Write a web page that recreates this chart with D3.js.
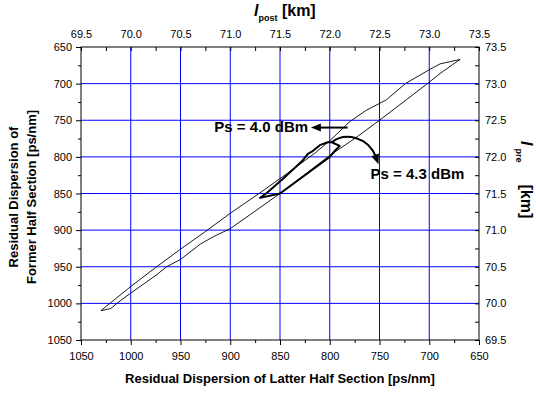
<!DOCTYPE html>
<html>
<head>
<meta charset="utf-8">
<script src="https://cdn.jsdelivr.net/npm/d3@7"></script>
<style>
  body { margin: 0; background: #fff; }
  text { font-family: "Liberation Sans", Arial, sans-serif; }
</style>
</head>
<body>
<svg id="chart" width="536" height="393"></svg>
<script>
/* axis ticks */
var latterTicks = [1050, 1000, 950, 900, 850, 800, 750, 700, 650];
var formerTicks = [650, 700, 750, 800, 850, 900, 950, 1000, 1050];
var postTicks = [69.5, 70.0, 70.5, 71.0, 71.5, 72.0, 72.5, 73.0, 73.5];
var preTicks = [69.5, 70.0, 70.5, 71.0, 71.5, 72.0, 72.5, 73.0, 73.5];

/* Ps = 4.0 dBm contour (closed), latter vs former residual dispersion */
var ps40Latter = [1030, 1021, 1000, 974, 950, 925, 900, 870, 840, 815, 800, 780, 764, 743, 724, 700, 689, 669,
                  689, 700, 723, 750, 775, 800, 825, 850, 875, 900, 917, 930, 950, 964, 974, 1000, 1014, 1020];
var ps40Former = [1010, 1000, 977, 950, 926, 902, 877, 849, 820, 795, 778, 752, 737, 722, 700, 681, 673, 667,
                  686, 698, 722, 750, 775, 798, 824, 850, 874, 898, 909, 919, 940, 950, 961, 986, 1000, 1007];

/* Ps = 4.3 dBm contour (closed) */
var ps43Latter = [870, 850, 825, 800, 795, 790, 798, 802, 810, 818, 822, 828, 847, 863];
var ps43Former = [856, 850, 825, 800, 792, 785, 780, 780, 784, 793, 796, 806, 830, 849];

var svg = d3.select("#chart");

/* scales: bottom/left in ps/nm, top/right in km */
var x = d3.scaleLinear().domain([1050, 650]).range([81, 479]);
var y = d3.scaleLinear().domain([650, 1050]).range([47, 340]);
var xPost = d3.scaleLinear().domain([69.5, 73.5]).range([81, 479]);
var yPre = d3.scaleLinear().domain([73.5, 69.5]).range([47, 340]);

/* blue grid */
var grid = svg.append("g").attr("class", "grid");
grid.selectAll("line.gv").data(latterTicks.slice(1, -1)).enter().append("line")
  .attr("class", "gv")
  .attr("x1", function(d) { return x(d); }).attr("x2", function(d) { return x(d); })
  .attr("y1", y.range()[0]).attr("y2", y.range()[1])
  .style("stroke", "#0000ff").style("stroke-width", 1);
grid.selectAll("line.gh").data(formerTicks.slice(1, -1)).enter().append("line")
  .attr("class", "gh")
  .attr("y1", function(d) { return y(d); }).attr("y2", function(d) { return y(d); })
  .attr("x1", x.range()[0]).attr("x2", x.range()[1])
  .style("stroke", "#0000ff").style("stroke-width", 1);

function styleAxis(g) {
  g.select(".domain").remove();
  g.selectAll(".tick line").attr("stroke", "#000");
  g.selectAll(".tick text").attr("font-size", 11).attr("fill", "#000")
    .attr("font-family", '"Liberation Sans", Arial, sans-serif');
}

var minorLatter = latterTicks.slice(1).map(function(d) { return d + 25; });
var minorFormer = formerTicks.slice(1).map(function(d) { return d - 25; });
var minorKm = postTicks.slice(1).map(function(d) { return d - 0.25; });

/* bottom */
svg.append("g").attr("transform", "translate(0,340)")
  .call(d3.axisBottom(x).tickValues(latterTicks).tickSize(5).tickPadding(7).tickFormat(d3.format("d")))
  .call(styleAxis);
svg.append("g").attr("transform", "translate(0,340)")
  .call(d3.axisBottom(x).tickValues(minorLatter).tickSize(3).tickFormat(""))
  .call(styleAxis);
/* left */
svg.append("g").attr("transform", "translate(81,0)")
  .call(d3.axisLeft(y).tickValues(formerTicks).tickSize(5).tickPadding(4).tickFormat(d3.format("d")))
  .call(styleAxis);
svg.append("g").attr("transform", "translate(81,0)")
  .call(d3.axisLeft(y).tickValues(minorFormer).tickSize(3).tickFormat(""))
  .call(styleAxis);
/* top */
svg.append("g").attr("transform", "translate(0,47)")
  .call(d3.axisTop(xPost).tickValues(postTicks).tickSize(-4).tickPadding(9).tickFormat(d3.format(".1f")))
  .call(styleAxis);
svg.append("g").attr("transform", "translate(0,47)")
  .call(d3.axisTop(xPost).tickValues(minorKm).tickSize(-4).tickFormat(""))
  .call(styleAxis);
/* right */
svg.append("g").attr("transform", "translate(479,0)")
  .call(d3.axisRight(yPre).tickValues(preTicks).tickSize(-4).tickPadding(6).tickFormat(d3.format(".1f")))
  .call(styleAxis);
svg.append("g").attr("transform", "translate(479,0)")
  .call(d3.axisRight(yPre).tickValues(minorKm).tickSize(-4).tickFormat(""))
  .call(styleAxis);

/* frame */
svg.append("rect").attr("x", 81).attr("y", 47).attr("width", 398).attr("height", 293)
  .attr("fill", "none").attr("stroke", "#000").attr("stroke-width", 1);

/* contours */
var contour = d3.line()
  .x(function(d) { return x(d[0]); })
  .y(function(d) { return y(d[1]); })
  .curve(d3.curveLinearClosed);

svg.append("path").datum(d3.zip(ps40Latter, ps40Former))
  .attr("d", contour).attr("fill", "none").attr("stroke", "#000").attr("stroke-width", 0.9);
svg.append("path").datum(d3.zip(ps43Latter, ps43Former))
  .attr("d", contour).attr("fill", "none").attr("stroke", "#000").attr("stroke-width", 2)
  .attr("stroke-linejoin", "round");

/* arrows, drawn as paths with their own heads */
function head(tipX, tipY, fromX, fromY) {
  var a = Math.atan2(tipY - fromY, tipX - fromX), len = 10, w = 4;
  var bx = tipX - len * Math.cos(a), by = tipY - len * Math.sin(a);
  return "M" + tipX + "," + tipY +
         "L" + (bx + w * Math.sin(a)) + "," + (by - w * Math.cos(a)) +
         "L" + (bx - w * Math.sin(a)) + "," + (by + w * Math.cos(a)) + "Z";
}

svg.append("path")
  .attr("d", "M" + x(782) + "," + y(760) + "L" + (x(819) + 8) + "," + y(760))
  .attr("fill", "none").attr("stroke", "#000").attr("stroke-width", 2);
svg.append("path").attr("d", head(x(819), y(760), x(782), y(760))).attr("fill", "#000");

svg.append("path")
  .attr("d", "M" + x(798) + "," + y(780) +
             "C" + x(785) + "," + y(766) + " " + x(762) + "," + y(772) + " " + x(753.5) + "," + y(800))
  .attr("fill", "none").attr("stroke", "#000").attr("stroke-width", 2);
svg.append("path").attr("d", head(x(751), y(810), x(755), y(795))).attr("fill", "#000");

svg.append("text").attr("x", x(916)).attr("y", y(766))
  .attr("font-size", 15).attr("font-weight", "bold").text("Ps = 4.0 dBm");
svg.append("text").attr("x", x(759)).attr("y", y(830))
  .attr("font-size", 15).attr("font-weight", "bold").text("Ps = 4.3 dBm");

/* axis titles */
svg.append("text").attr("x", 280).attr("y", 383).attr("text-anchor", "middle")
  .attr("font-size", 13).attr("font-weight", "bold")
  .text("Residual Dispersion of Latter Half Section [ps/nm]");

svg.append("text").attr("transform", "translate(18,197) rotate(-90)").attr("text-anchor", "middle")
  .attr("font-size", 13).attr("font-weight", "bold").text("Residual Dispersion of");
svg.append("text").attr("transform", "translate(36,197) rotate(-90)").attr("text-anchor", "middle")
  .attr("font-size", 13).attr("font-weight", "bold").text("Former Half Section [ps/nm]");

var topTitle = svg.append("text").attr("x", 254).attr("y", 16)
  .attr("font-size", 16).attr("font-weight", "bold");
topTitle.append("tspan").attr("font-style", "italic").text("l");
topTitle.append("tspan").attr("font-size", 9).attr("dy", 5).text("post");
topTitle.append("tspan").attr("dy", -5).text(" [km]");

var rightTitle = svg.append("text").attr("transform", "translate(521,141) rotate(90)")
  .attr("font-size", 16).attr("font-weight", "bold");
rightTitle.append("tspan").attr("font-style", "italic").text("l");
rightTitle.append("tspan").attr("font-size", 9).attr("dy", 5).attr("dx", 3).text("pre");
rightTitle.append("tspan").attr("dy", -5).attr("dx", 22).text("[km]");
</script>
</body>
</html>
